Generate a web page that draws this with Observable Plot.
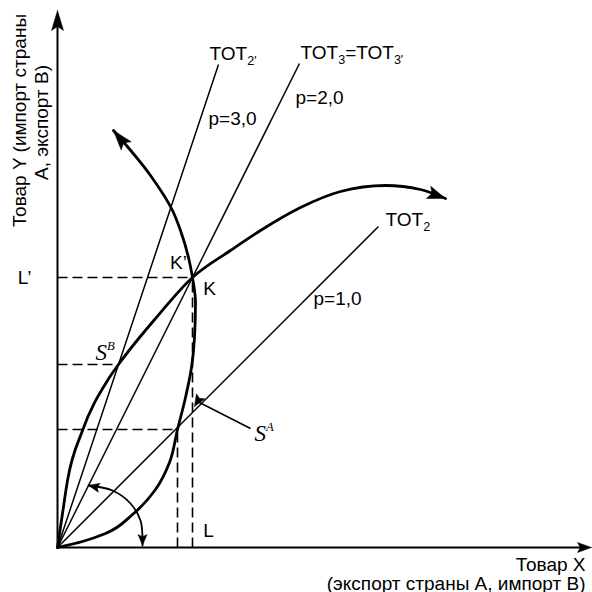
<!DOCTYPE html>
<html><head><meta charset="utf-8">
<script src="https://cdn.jsdelivr.net/npm/d3@7"></script>
<script src="https://cdn.jsdelivr.net/npm/@observablehq/plot@0.6"></script>
<style>html,body{margin:0;padding:0;background:#fff} svg{display:block}</style>
</head><body><div id="chart"></div>
<script>
// ---- data (chart units) ----
const offerB_x = [0, 5, 10, 25, 50, 61, 98, 135, 173, 203, 243, 283, 328, 363, 388];
const offerB_y = [0, 34, 67, 117, 167, 183, 229, 270, 297, 317, 340, 356, 362, 358, 349];
const offerA_x = [0, 25, 48, 75, 98, 112, 120, 128, 134, 137, 138, 135, 131, 123, 115, 93, 56];
const offerA_y = [0, 6, 14, 33, 58, 85, 118, 150, 180, 210, 245, 270, 290, 317, 337, 372, 417];
const totPrices = [3, 2, 1];
const totLineEndX = [161, 242, 321];
const totNames = ["TOT_{2'}", "TOT_{3}=TOT_{3'}", "TOT_{2}"];
const priceLabels = ["p=3,0", "p=2,0", "p=1,0"];
const priceLabelY = [429, 450, 249];
const pointK = [135, 270];
const pointSB = [61, 183];
const pointP1 = [120, 118];
const arcX = [31, 55, 73, 83, 85, 85];
const arcY = [62, 57, 44, 27, 10, 2];
const axisMaxX = 534, axisMaxY = 537;
const yTitle = ["Товар Y (импорт страны", "А, экспорт В)"];
const xTitle = ["Товар X", "(экспорт страны А, импорт В)"];

// ---- helpers ----
const zip = (xs, ys) => xs.map((x, i) => [x, ys[i]]);
const B = zip(offerB_x, offerB_y);
const A = zip(offerA_x, offerA_y);
const ARC = zip(arcX, arcY);
const px = d => d[0], py = d => d[1];

function head(tip, from, L, W, id) {
  const dx = tip[0] - from[0], dy = tip[1] - from[1], n = Math.hypot(dx, dy);
  const ux = dx / n, uy = dy / n, nx = -uy, ny = ux;
  const bx = tip[0] - ux * L, by = tip[1] - uy * L;
  const mx = tip[0] - ux * L * 0.8, my = tip[1] - uy * L * 0.8;
  return [[tip[0], tip[1]], [bx + nx * W, by + ny * W], [mx, my], [bx - nx * W, by - ny * W], [tip[0], tip[1]]]
    .map(p => ({x: p[0], y: p[1], id}));
}
const saFrom = [pointK[0] + 58, 119], saTo = [pointK[0] + 2, 141];
const heads = [
  ...head([axisMaxX, 0], [0, 0], 14, 5, "xa"),
  ...head([0, axisMaxY], [0, 0], 20, 6, "ya"),
  ...head(B[B.length - 1], B[B.length - 2], 18, 6.5, "b"),
  ...head(A[A.length - 1], A[A.length - 2], 20, 6.5, "a"),
  ...head(ARC[0], ARC[1], 11, 4.5, "arc0"),
  ...head(ARC[ARC.length - 1], ARC[ARC.length - 2], 11, 4.5, "arc1"),
  ...head(saTo, [saTo[0] + 6, saTo[1] + 10], 12, 5, "sa")
];

const tot = totPrices.map((p, i) => ({p, x2: totLineEndX[i], name: totNames[i], pl: priceLabels[i], ply: priceLabelY[i], i}));
const totOff = [[-9, -11], [1, -11], [7, -7]];
const plOff = [8, 13, 7];

const dash = "10,5";
const serif = "'Liberation Serif', 'DejaVu Serif', serif";
const chart = Plot.plot({
  width: 592, height: 592,
  marginLeft: 57, marginRight: 1, marginTop: 10, marginBottom: 45,
  x: {domain: [0, 534], axis: null},
  y: {domain: [0, 537], axis: null},
  style: {fontFamily: "'Liberation Sans', Arial, sans-serif", fontSize: "19px", background: "white", color: "black"},
  marks: [
    // axes
    Plot.link([0], {x1: () => 0, y1: () => 0, x2: () => axisMaxX - 8, y2: () => 0, strokeWidth: 2}),
    Plot.link([0], {x1: () => 0, y1: () => 0, x2: () => 0, y2: () => axisMaxY - 10, strokeWidth: 2}),
    // dashed guides
    Plot.link([pointK, pointSB, pointP1], {x1: () => 0, y1: py, x2: px, y2: py, strokeDasharray: dash, strokeWidth: 1.6}),
    Plot.link([pointK, pointP1], {x1: px, y1: () => 0, x2: px, y2: py, strokeDasharray: dash, strokeWidth: 1.6}),
    // terms-of-trade rays
    Plot.link(tot, {x1: () => 0, y1: () => 0, x2: d => d.x2, y2: d => d.p * d.x2, strokeWidth: 1.5}),
    // offer curves
    Plot.line(B, {x: px, y: py, curve: "monotone-x", strokeWidth: 2.8}),
    Plot.line(A, {x: px, y: py, curve: "monotone-y", strokeWidth: 2.8}),
    Plot.line(ARC, {x: px, y: py, curve: "catmull-rom", strokeWidth: 1.8}),
    // S^A pointer
    Plot.link([0], {x1: () => saFrom[0], y1: () => saFrom[1], x2: () => saTo[0] + 3, y2: () => saTo[1] + 5, strokeWidth: 1.6}),
    // arrowheads
    Plot.line(heads, {x: "x", y: "y", z: "id", fill: "black", stroke: "black", strokeWidth: 0.5, curve: "linear"}),
    // TOT labels
    Plot.text(tot, {x: d => d.x2 + totOff[d.i][0], y: d => d.p * d.x2 - totOff[d.i][1], text: "name", textAnchor: "start", lineAnchor: "middle"}),
    Plot.text(tot, {x: d => d.ply / d.p + plOff[d.i], y: "ply", text: "pl", textAnchor: "start", lineAnchor: "middle"}),
    // point labels
    Plot.text([pointK], {x: d => d[0] + 17, y: d => d[1] - 11, text: () => "K", lineAnchor: "middle"}),
    Plot.text([pointK], {x: d => d[0] - 14, y: d => d[1] + 15, text: () => "K’", lineAnchor: "middle"}),
    Plot.text([pointK], {x: () => -33, y: d => d[1], text: () => "L’", lineAnchor: "middle"}),
    Plot.text([pointK], {x: d => d[0] + 16, y: () => 17, text: () => "L", lineAnchor: "middle"}),
    Plot.text([pointSB], {x: d => d[0] - 23, y: d => d[1] + 12, text: () => "S^{B}", textAnchor: "start", lineAnchor: "middle", fontFamily: serif, fontStyle: "italic", fontSize: 23}),
    Plot.text([pointK], {x: d => d[0] + 62, y: () => 114, text: () => "S^{A}", textAnchor: "start", lineAnchor: "middle", fontFamily: serif, fontStyle: "italic", fontSize: 23}),
    // axis titles
    Plot.text([yTitle[0]], {x: () => -32, y: () => 427, text: d => d, rotate: -90, lineAnchor: "bottom"}),
    Plot.text([yTitle[1]], {x: () => -10, y: () => 425, text: d => d, rotate: -90, lineAnchor: "bottom"}),
    Plot.text([xTitle[0]], {x: () => 528, y: () => -23, text: d => d, textAnchor: "end", lineAnchor: "bottom"}),
    Plot.text([xTitle[1]], {x: () => 528, y: () => -42, text: d => d, textAnchor: "end", lineAnchor: "bottom"})
  ]
});
document.getElementById("chart").appendChild(chart);

// sub/superscripts
const NS = "http://www.w3.org/2000/svg";
for (const t of chart.querySelectorAll("text")) {
  const s = t.textContent;
  if (!/[_^]\{/.test(s)) continue;
  const fs = parseFloat(getComputedStyle(t).fontSize) || 19;
  t.textContent = "";
  const re = /([_^])\{([^}]*)\}/g;
  let last = 0, m, pending = 0;
  const add = (str, size, dy) => {
    const ts = document.createElementNS(NS, "tspan");
    ts.textContent = str;
    if (size) ts.setAttribute("font-size", size);
    if (dy) ts.setAttribute("dy", dy);
    t.appendChild(ts);
  };
  while ((m = re.exec(s))) {
    if (m.index > last) { add(s.slice(last, m.index), null, -pending); pending = 0; }
    const sub = m[1] === "_";
    const shift = sub ? 0.28 * fs : -0.42 * fs;
    add(m[2], (sub ? 0.66 : 0.55) * fs, shift - pending);
    pending = shift;
    last = re.lastIndex;
  }
  if (last < s.length) add(s.slice(last), null, -pending);
}
</script>
</body></html>
